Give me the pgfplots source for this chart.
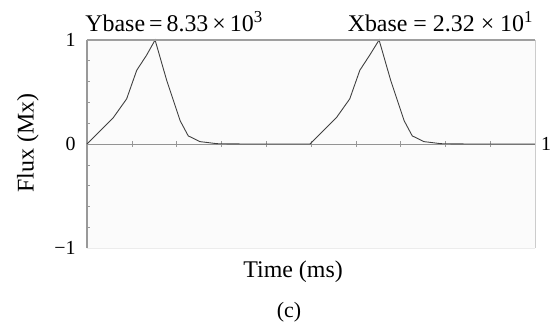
\documentclass[border=0pt]{standalone}
\usepackage{pgfplots}
\pgfplotsset{compat=1.18}
\usepackage{fontspec}
\setmainfont{Liberation Serif}
\begin{document}
\begin{tikzpicture}
\useasboundingbox (-87bp,-77bp) rectangle (465bp,248bp);
\begin{axis}[
  scale only axis,
  width=448bp, height=208bp,
  xmin=0, xmax=1, ymin=-1, ymax=1,
  axis x line=middle, axis y line=left,
  axis line style={-, draw=gray!80, line width=1.1pt},
  x axis line style={draw=gray!85, line width=0.9pt},
  xtick={0.1,0.2,...,0.9}, xticklabels={},
  ytick={-1,0,1}, yticklabels={−1,0,1},
  minor ytick={-0.8,-0.6,-0.4,-0.2,0.2,0.4,0.6,0.8},
  major tick length=5bp, minor tick length=3bp,
  tick style={draw=gray!80, line width=0.6pt},
  xtick align=center,
  ytick align=inside,
  yticklabel style={font=\fontsize{20}{22}\selectfont, xshift=-8bp},
  /pgf/number format/assume math mode=true,
  axis background/.style={fill=gray!3},
  clip=false,
]
\addplot[draw=black!75, line width=0.9pt] coordinates {
(0,0) (0.029,0.126) (0.059,0.255) (0.0885,0.434) (0.111,0.709) (0.133,0.854) (0.152,1.0)
(0.178,0.61) (0.208,0.223) (0.226,0.078) (0.252,0.023) (0.29,0.003) (0.35,0) (0.498,0)
(0.527,0.126) (0.557,0.255) (0.5865,0.434) (0.609,0.709) (0.631,0.854) (0.652,1.0)
(0.678,0.61) (0.708,0.223) (0.726,0.078) (0.752,0.023) (0.79,0.003) (0.85,0) (1,0)
};
\draw[gray!75, line width=1.6pt] (axis description cs:0,1) -- (axis description cs:1,1);
\draw[gray!40, line width=1pt] (axis description cs:1,0) -- (axis description cs:1,1);
\draw[gray!15, line width=0.6pt] (axis description cs:0,0) -- (axis description cs:1,0);
\node[anchor=west, font=\fontsize{20}{22}\selectfont, inner sep=0pt] at (axis cs:1,0) [xshift=6bp] {1};
\node[anchor=base west, inner sep=0pt, font=\fontsize{24}{26}\selectfont] at (axis description cs:-0.004,1.043) {Ybase\,=\,8.33\,×\,10\textsuperscript{3}};
\node[anchor=base east, inner sep=0pt, font=\fontsize{24}{26}\selectfont] at (axis description cs:0.996,1.043) {Xbase = 2.32 × 10\textsuperscript{1}};
\node[font=\fontsize{24}{26}\selectfont] at (axis description cs:0.46,-0.115) {Time (ms)};
\node[font=\fontsize{22}{24}\selectfont] at (axis description cs:0.451,-0.31) {(c)};
\node[rotate=90, font=\fontsize{24}{26}\selectfont] at (axis description cs:-0.132,0.505) {Flux (Mx)};
\end{axis}
\end{tikzpicture}
\end{document}
